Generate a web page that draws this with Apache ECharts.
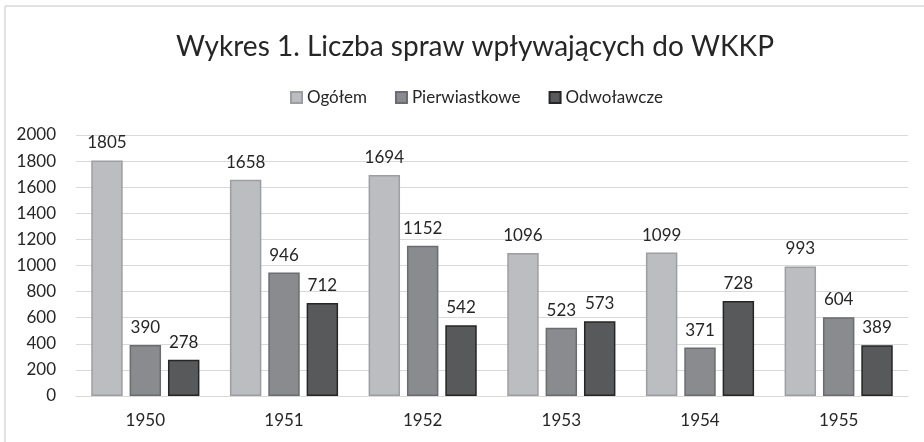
<!DOCTYPE html>
<html>
<head>
<meta charset="utf-8">
<script src="https://cdn.jsdelivr.net/npm/echarts@6/dist/echarts.min.js"></script>
<style>
  html, body { margin: 0; padding: 0; background: #fff; }
  #chart { width: 924px; height: 442px; }
</style>
</head>
<body>
<div id="chart"></div>
<script>
const years = ["1950", "1951", "1952", "1953", "1954", "1955"];
const ogolem = [1805, 1658, 1694, 1096, 1099, 993];
const pierwiastkowe = [390, 946, 1152, 523, 371, 604];
const odwolawcze = [278, 712, 542, 573, 728, 389];

const FONT = "Lato, 'Open Sans', sans-serif";
const TEXT = "#262626";

function barSeries(name, data, fill, border) {
  return {
    name,
    type: "bar",
    data,
    barGap: "22%",
    barCategoryGap: "22%",
    itemStyle: { color: fill, borderColor: border, borderWidth: 1.5 },
    label: {
      show: true,
      position: "top",
      distance: 9,
      color: TEXT,
      fontFamily: FONT,
      fontSize: 17,
    },
  };
}

const chart = echarts.init(document.getElementById("chart"));
chart.setOption({
  backgroundColor: "#fff",
  animation: false,
  title: {
    text: "Wykres 1. Liczba spraw wpływających do WKKP",
    left: 171,
    top: 28,
    textStyle: { color: TEXT, fontFamily: FONT, fontSize: 28, fontWeight: "normal" },
  },
  legend: {
    top: 84,
    left: 285,
    itemWidth: 11,
    itemHeight: 11,
    itemGap: 28,
    icon: "rect",
    textStyle: { color: TEXT, fontFamily: FONT, fontSize: 17 },
  },
  grid: { left: 76, right: 16, top: 135, bottom: 46 },
  xAxis: {
    type: "category",
    data: years,
    axisTick: { show: false },
    axisLine: { lineStyle: { color: "#d9d9d9" } },
    axisLabel: { color: TEXT, fontFamily: FONT, fontSize: 17, margin: 16 },
  },
  yAxis: {
    type: "value",
    min: 0,
    max: 2000,
    interval: 200,
    axisLine: { show: false },
    axisTick: { show: false },
    splitLine: { lineStyle: { color: "#d9d9d9", width: 1 } },
    axisLabel: {
      color: TEXT,
      fontFamily: FONT,
      fontSize: 17,
      margin: 20,
      formatter: (v) => String(v),
    },
  },
  series: [
    barSeries("Ogółem", ogolem, "#bcbdc1", "#9d9ea2"),
    barSeries("Pierwiastkowe", pierwiastkowe, "#8a8b8f", "#6b6c70"),
    barSeries("Odwoławcze", odwolawcze, "#58595b", "#262626"),
  ],
  graphic: [
    { type: "line", shape: { x1: 5, y1: 6, x2: 924, y2: 6 }, style: { stroke: "#d9d9d9", lineWidth: 1.5 } },
    { type: "line", shape: { x1: 5, y1: 6, x2: 5, y2: 442 }, style: { stroke: "#d9d9d9", lineWidth: 1.5 } },
  ],
});
</script>
</body>
</html>
